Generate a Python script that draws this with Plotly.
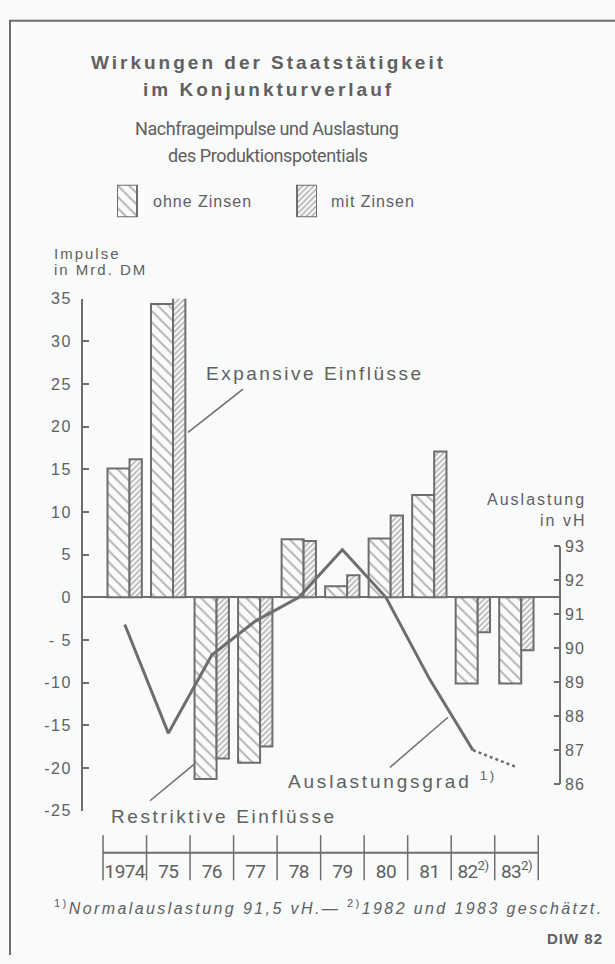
import plotly.graph_objects as go

# ---------------- data ----------------
years = ["1974", "75", "76", "77", "78", "79", "80", "81", "82", "83"]
year_notes = ["", "", "", "", "", "", "", "", "2)", "2)"]
ohne_zinsen = [15.1, 34.4, -21.3, -19.4, 6.8, 1.3, 6.9, 12.0, -10.1, -10.1]
mit_zinsen = [16.2, 35.4, -18.9, -17.5, 6.6, 2.6, 9.6, 17.1, -4.1, -6.2]
auslastung = [90.7, 87.5, 89.8, 90.8, 91.5, 92.9, 91.5, 89.1, 87.0, 86.5]
estimated_from = 8  # index from which the Auslastung is an estimate (dotted)

left_ticks = [-25, -20, -15, -10, -5, 0, 5, 10, 15, 20, 25, 30, 35]
left_ticktext = ["-25", "-20", "-15", "-10", "- 5", "0", "5", "10", "15", "20", "25", "30", "35"]
right_ticks = [86, 87, 88, 89, 90, 91, 92, 93]
right_ticktext = ["86", "87", "88", "89", "90", "91", "92", "93"]

# ---------------- style ----------------
W, H = 615, 964
BG = "#f9fafa"
INK = "#606060"
LINE = "#6e6e6e"
SANS = "Liberation Sans, Arial, Helvetica, sans-serif"
COND = "Roboto, sans-serif"


def fx(px):
    return px / W


def fy(py):
    return 1 - py / H


def sp(text, ls):
    return f'<span style="letter-spacing:{ls}px">{text}</span>'


xi = list(range(len(years)))
year_labels = [yr + (f"<sup>{n}</sup>" if n else "") for yr, n in zip(years, year_notes)]

PAT_OHNE = dict(shape="\\", size=8, solidity=0.24, fgcolor=LINE, bgcolor=BG, fillmode="overlay")
PAT_MIT = dict(shape="/", size=4, solidity=0.42, fgcolor=LINE, bgcolor=BG, fillmode="overlay")

fig = go.Figure()

fig.add_trace(go.Bar(
    x=xi, y=ohne_zinsen, offset=-0.397, width=0.506,
    marker=dict(color=BG, line=dict(color=LINE, width=2), pattern=PAT_OHNE),
    showlegend=False, hoverinfo="skip"))
fig.add_trace(go.Bar(
    x=xi, y=mit_zinsen, offset=0.109, width=0.283,
    marker=dict(color=BG, line=dict(color=LINE, width=2), pattern=PAT_MIT),
    showlegend=False, hoverinfo="skip"))

fig.add_trace(go.Scatter(
    x=xi[:estimated_from + 1], y=auslastung[:estimated_from + 1], yaxis="y2",
    mode="lines", line=dict(color=LINE, width=3), showlegend=False, hoverinfo="skip"))
fig.add_trace(go.Scatter(
    x=xi[estimated_from:], y=auslastung[estimated_from:], yaxis="y2",
    mode="lines", line=dict(color=LINE, width=2.5, dash="dot"),
    showlegend=False, hoverinfo="skip"))

# legend swatches as a tiny bar chart of their own
fig.add_trace(go.Bar(
    x=[0], y=[1], width=0.111, xaxis="x3", yaxis="y3",
    marker=dict(color=BG, line=dict(color=LINE, width=2), pattern=PAT_OHNE),
    showlegend=False, hoverinfo="skip"))
fig.add_trace(go.Bar(
    x=[1], y=[1], width=0.111, xaxis="x3", yaxis="y3",
    marker=dict(color=BG, line=dict(color=LINE, width=2), pattern=PAT_MIT),
    showlegend=False, hoverinfo="skip"))

# scaling: right axis 91.5 aligned with left axis 0
px_per_mrd = 521 / 60
px_per_vh = 34.57
lo = 91.5 - 25 * px_per_mrd / px_per_vh
hi = 91.5 + 35 * px_per_mrd / px_per_vh

tickfont = dict(family=SANS, size=16, color=INK)

fig.update_layout(
    width=W, height=H, margin=dict(l=0, r=0, t=0, b=0),
    paper_bgcolor=BG, plot_bgcolor=BG, barmode="overlay",
    xaxis=dict(domain=[fx(83), fx(560)], range=[-0.96, 10.0],
               tickvals=xi, ticktext=[sp(t, -0.6) for t in year_labels],
               tickfont=dict(family=COND, size=19, color=INK),
               ticks="", ticklabelstandoff=47, showgrid=False, zeroline=False,
               showline=False, fixedrange=True),
    yaxis=dict(domain=[fy(817), fy(296)], range=[-25, 35],
               tickvals=left_ticks, ticktext=[sp(t, 1.5) for t in left_ticktext],
               ticks="inside", ticklen=6, tickwidth=2, tickcolor=LINE,
               showline=True, linewidth=2, linecolor=LINE,
               showgrid=False, zeroline=True, zerolinecolor=LINE, zerolinewidth=2,
               tickfont=tickfont, ticklabelstandoff=6),
    yaxis2=dict(overlaying="y", side="right", anchor="x", range=[lo, hi],
                tickvals=right_ticks, ticktext=[sp(t, 1) for t in right_ticktext],
                ticks="inside", ticklen=6, tickwidth=2, tickcolor=LINE,
                showline=False, showgrid=False, zeroline=False,
                tickfont=tickfont, ticklabelstandoff=4),
    xaxis3=dict(domain=[fx(117), fx(317)], range=[-0.0556, 1.0556], visible=False,
                anchor="y3"),
    yaxis3=dict(domain=[fy(213), fy(180)], range=[0, 1], visible=False, anchor="x3"),
)

shapes = []
# right axis line (86..93 only)
shapes.append(dict(type="line", xref="paper", yref="y2", x0=fx(560), x1=fx(560),
                   y0=86, y1=93, line=dict(color=LINE, width=2)))
# frame
shapes.append(dict(type="line", xref="paper", yref="paper", x0=fx(9), x1=1,
                   y0=fy(13), y1=fy(13), line=dict(color=LINE, width=2)))
shapes.append(dict(type="line", xref="paper", yref="paper", x0=fx(10), x1=fx(10),
                   y0=fy(13), y1=0, line=dict(color=LINE, width=2)))
# leader lines
for (x0, y0, x1, y1) in [(188, 432, 243, 388), (150, 807, 194, 770), (390, 773, 448, 722)]:
    shapes.append(dict(type="line", xref="paper", yref="paper", x0=fx(x0), x1=fx(x1),
                       y0=fy(y0), y1=fy(y1), line=dict(color=LINE, width=1.5)))
# year scale
shapes.append(dict(type="line", xref="x", yref="paper", x0=-0.5, x1=len(years) - 0.5,
                   y0=fy(860), y1=fy(860), line=dict(color=LINE, width=2)))
for i in range(len(years) + 1):
    shapes.append(dict(type="line", xref="x", yref="paper", x0=i - 0.5, x1=i - 0.5,
                       y0=fy(842), y1=fy(888), line=dict(color=LINE, width=1.5)))
fig.update_layout(shapes=shapes)

ann = []


def add(text, x, y, size, family=SANS, xanchor="center", ls=0):
    ann.append(dict(text=sp(text, ls) if ls else text, x=fx(x),
                    y=fy(y), xref="paper", yref="paper", xanchor=xanchor, yanchor="middle",
                    showarrow=False, font=dict(family=family, size=size, color=INK)))


add("<b>Wirkungen der Staatstätigkeit</b>", 268, 55, 19, ls=3.0)
add("<b>im Konjunkturverlauf</b>", 268, 83, 19, ls=3.0)
add("Nachfrageimpulse und Auslastung", 267, 123, 18, family=COND, ls=-0.4)
add("des Produktionspotentials", 268, 150, 18, family=COND, ls=-0.4)
add("ohne Zinsen", 151, 197, 16, xanchor="left", ls=1)
add("mit Zinsen", 329, 197, 16, xanchor="left", ls=1)
add("Impulse", 52, 250, 15, xanchor="left", ls=2)
add("in Mrd. DM", 52, 266, 15, xanchor="left", ls=2)
add("Auslastung", 588, 500, 16, xanchor="right", ls=2)
add("in vH", 588, 522, 16, xanchor="right", ls=2)
add("Expansive Einflüsse", 204, 372, 19, xanchor="left", ls=2.5)
add("Restriktive Einflüsse", 109, 823, 19, xanchor="left", ls=2.6)
add("Auslastungsgrad <sup>1)</sup>", 286, 786, 19, xanchor="left", ls=2.8)
add("<sup>1)</sup><i>Normalauslastung 91,5 vH.— </i><sup>2)</sup><i>1982 und 1983 geschätzt.</i>",
    52, 915, 16, xanchor="left", ls=2.4)
add("<b>DIW 82</b>", 605, 947, 15, xanchor="right", ls=1)

fig.update_layout(annotations=ann)

fig.write_html(
    "out.html",
    config={"displayModeBar": False},
    post_script="document.body.style.margin='0';document.body.style.overflow='hidden';",
)
